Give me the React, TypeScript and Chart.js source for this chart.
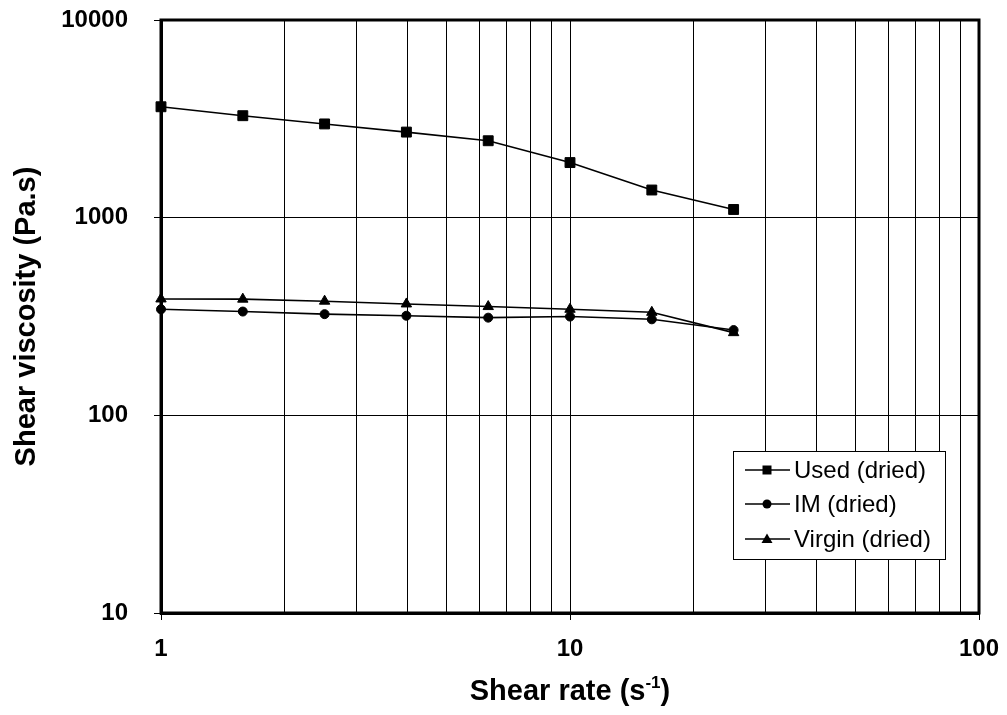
import React, { useEffect, useRef } from "react";
import { Chart, registerables } from "chart.js";

Chart.register(...registerables);

const FONT = "'Liberation Sans', Arial, sans-serif";

// Shear rate (s^-1)
const shearRates = [1, 1.585, 2.512, 3.981, 6.31, 10, 15.85, 25.12];
// Shear viscosity (Pa.s)
const usedDried = [3640, 3280, 2980, 2710, 2450, 1900, 1380, 1100];
const imDried = [344, 335, 325, 319, 312, 316, 306, 270];
const virginDried = [388, 387, 378, 366, 355, 344, 332, 262];

const seriesNames = ["Used (dried)", "IM (dried)", "Virgin (dried)"];
const seriesStyles = ["rect", "circle", "triangle"];

const xGridValues = [1, 2, 3, 4, 5, 6, 7, 8, 9, 10, 20, 30, 40, 50, 60, 70, 80, 90, 100];
const xLabelValues = [1, 10, 100];
const yTickValues = [10, 100, 1000, 10000];

const xTitleMain = "Shear rate (s";
const xTitleSup = "-1";
const xTitleEnd = ")";
const yTitle = "Shear viscosity (Pa.s)";

function drawMarker(ctx: CanvasRenderingContext2D, style: string, x: number, y: number) {
  ctx.beginPath();
  if (style === "rect") {
    ctx.rect(x - 4.5, y - 4.5, 9, 9);
  } else if (style === "circle") {
    ctx.arc(x, y, 4.5, 0, Math.PI * 2);
  } else {
    ctx.moveTo(x, y - 5.5);
    ctx.lineTo(x + 5.5, y + 4);
    ctx.lineTo(x - 5.5, y + 4);
    ctx.closePath();
  }
  ctx.fill();
}

const framePlugin = {
  id: "frame",
  beforeDatasetsDraw(chart: any) {
    const { ctx, chartArea } = chart;
    ctx.save();
    ctx.strokeStyle = "#000";
    ctx.lineWidth = 3;
    ctx.strokeRect(chartArea.left, chartArea.top, chartArea.right - chartArea.left, chartArea.bottom - chartArea.top);
    ctx.restore();
  },
};

const legendAndTitlePlugin = {
  id: "customLegend",
  afterDraw(chart: any) {
    const { ctx, chartArea } = chart;
    ctx.save();
    const bx = 733, by = 451, bw = 212, bh = 108;
    ctx.fillStyle = "#fff";
    ctx.fillRect(bx, by, bw, bh);
    ctx.strokeStyle = "#000";
    ctx.lineWidth = 1;
    ctx.strokeRect(bx + 0.5, by + 0.5, bw, bh);
    const rows = [470, 504, 539];
    ctx.font = `24px ${FONT}`;
    ctx.textBaseline = "middle";
    ctx.textAlign = "left";
    seriesNames.forEach((name, i) => {
      const y = rows[i];
      ctx.strokeStyle = "#000";
      ctx.lineWidth = 1.5;
      ctx.beginPath();
      ctx.moveTo(745, y);
      ctx.lineTo(790, y);
      ctx.stroke();
      ctx.fillStyle = "#000";
      drawMarker(ctx, seriesStyles[i], 767, y);
      ctx.fillText(name, 794, y + 1);
    });
    const mainFont = `bold 29px ${FONT}`;
    const supFont = `bold 17px ${FONT}`;
    ctx.font = mainFont;
    const w1 = ctx.measureText(xTitleMain).width;
    const w3 = ctx.measureText(xTitleEnd).width;
    ctx.font = supFont;
    const w2 = ctx.measureText(xTitleSup).width;
    const total = w1 + w2 + w3;
    const cx = (chartArea.left + chartArea.right) / 2;
    let x = cx - total / 2;
    const base = 700;
    ctx.textBaseline = "alphabetic";
    ctx.fillStyle = "#000";
    ctx.font = mainFont;
    ctx.fillText(xTitleMain, x, base);
    x += w1;
    ctx.font = supFont;
    ctx.fillText(xTitleSup, x, base - 12);
    x += w2;
    ctx.font = mainFont;
    ctx.fillText(xTitleEnd, x, base);
    ctx.restore();
  },
};

export default function App() {
  const canvasRef = useRef<HTMLCanvasElement | null>(null);

  useEffect(() => {
    document.body.style.margin = "0";
    const canvas = canvasRef.current;
    if (!canvas) return;
    const mk = (vals: number[]) => shearRates.map((x, i) => ({ x, y: vals[i] }));
    const allValues = [usedDried, imDried, virginDried];
    const radii = [7, 4.5, 6];
    const chart = new Chart(canvas, {
      type: "line",
      data: {
        datasets: allValues.map((vals, i) => ({
          label: seriesNames[i],
          data: mk(vals),
          borderColor: "#000",
          backgroundColor: "#000",
          borderWidth: 1.6,
          pointStyle: seriesStyles[i] as any,
          pointRadius: radii[i],
          pointBackgroundColor: "#000",
          pointBorderColor: "#000",
          pointBorderWidth: 1,
          tension: 0,
          clip: false as any,
        })),
      },
      options: {
        animation: false,
        responsive: false,
        devicePixelRatio: 1,
        layout: { padding: { top: 20, right: 28, left: 0, bottom: 0 } },
        plugins: {
          legend: { display: false },
          tooltip: { enabled: false },
        },
        scales: {
          x: {
            type: "logarithmic",
            min: 1,
            max: 100,
            afterBuildTicks: (s: any) => {
              s.ticks = xGridValues.map((v) => ({ value: v }));
            },
            afterFit: (s: any) => {
              s.height = 102;
              s.paddingLeft = 0;
              s.paddingRight = 0;
            },
            ticks: {
              autoSkip: false,
              maxRotation: 0,
              minRotation: 0,
              padding: 15,
              color: "#000",
              font: { family: FONT, size: 24, weight: "bold" },
              callback: (v: any) => (xLabelValues.includes(Number(v)) ? String(v) : ""),
            },
            grid: {
              color: "#000",
              lineWidth: 1,
              tickLength: 7,
              tickColor: (c: any) =>
                c.tick && xLabelValues.includes(c.tick.value) ? "#000" : "rgba(0,0,0,0)",
            },
            border: { display: true, color: "#000", width: 3 },
          },
          y: {
            type: "logarithmic",
            min: 10,
            max: 10000,
            afterBuildTicks: (s: any) => {
              s.ticks = yTickValues.map((v) => ({ value: v }));
            },
            afterFit: (s: any) => {
              s.width = 161;
              s.paddingTop = 0;
              s.paddingBottom = 0;
            },
            ticks: {
              autoSkip: false,
              padding: 26,
              color: "#000",
              font: { family: FONT, size: 24, weight: "bold" },
              callback: (v: any) => String(v),
            },
            grid: { color: "#000", lineWidth: 1, tickLength: 7, tickColor: "#000" },
            border: { display: true, color: "#000", width: 3 },
            title: {
              display: true,
              text: yTitle,
              color: "#000",
              font: { family: FONT, size: 29, weight: "bold" },
              padding: { top: 10, bottom: 0 },
            },
          },
        },
      },
      plugins: [framePlugin, legendAndTitlePlugin],
    } as any);
    return () => chart.destroy();
  }, []);

  return (
    <div style={{ position: "absolute", left: 0, top: 0, width: 1007, height: 715, background: "#fff" }}>
      <canvas ref={canvasRef} width={1007} height={715} />
    </div>
  );
}
